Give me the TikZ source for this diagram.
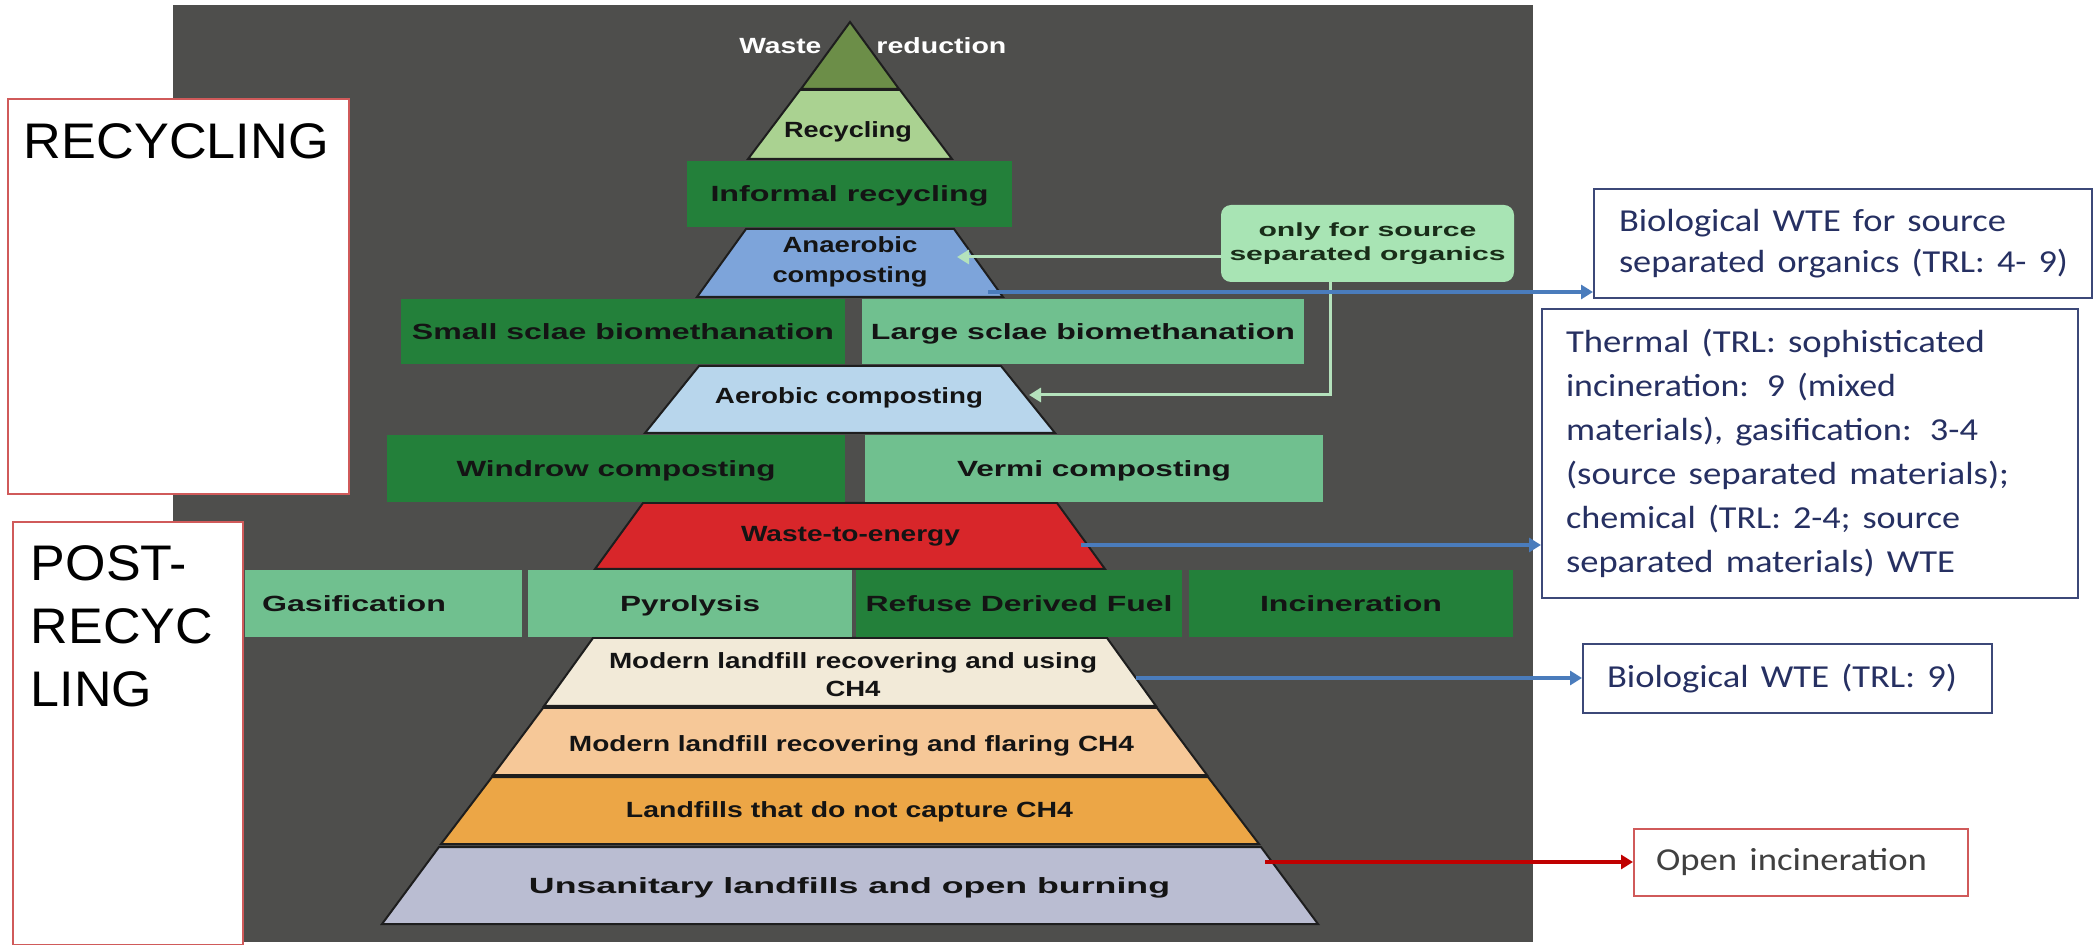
\documentclass[tikz,border=0pt]{standalone}
\usepackage{fontspec}
\usepackage{graphicx}
\setmainfont{Liberation Sans}
\newfontfamily\carl{Carlito}
\usetikzlibrary{arrows.meta}
\definecolor{bgdark}{RGB}{78,78,76}
\definecolor{dkgreen}{RGB}{35,128,58}
\definecolor{ltgreen}{RGB}{112,192,143}
\definecolor{tipgreen}{RGB}{108,142,72}
\definecolor{recgreen}{RGB}{170,210,145}
\definecolor{anblue}{RGB}{125,164,218}
\definecolor{aeblue}{RGB}{184,214,236}
\definecolor{wtered}{RGB}{216,38,42}
\definecolor{cream}{RGB}{242,234,216}
\definecolor{ltorange}{RGB}{246,200,152}
\definecolor{orangetwo}{RGB}{236,166,70}
\definecolor{lavender}{RGB}{186,189,210}
\definecolor{notegreen}{RGB}{168,228,180}
\definecolor{arrowgreen}{RGB}{180,226,188}
\definecolor{arrowblue}{RGB}{74,124,188}
\definecolor{arrowred}{RGB}{192,0,0}
\definecolor{boxred}{RGB}{208,90,90}
\definecolor{navy}{RGB}{38,48,98}
\definecolor{boxnavy}{RGB}{60,72,120}
\definecolor{outline}{RGB}{30,30,30}
\definecolor{labtext}{RGB}{20,20,20}
\definecolor{notetext}{RGB}{25,45,25}
\newcommand\fitw[2]{\resizebox{#1}{\height}{#2}}
\newcommand\pslice[5]{\draw[sliceline,fill=#5] ({850-#3},#1) -- ({850+#3},#1) -- ({850+#4},#2) -- ({850-#4},#2) -- cycle;}
\begin{document}
\begin{tikzpicture}[x=0.5pt,y=-0.5pt,
  sliceline/.style={draw=outline,line width=1pt,line join=miter},
  lab/.style={inner sep=0pt,anchor=base,font=\fontsize{11}{13}\selectfont\bfseries,text=labtext},
  rbox/.style={inner sep=0pt,text height=7.9pt,text depth=0pt,font=\fontsize{11}{13}\selectfont\bfseries,text=labtext},
  sidebox/.style={draw=boxred,line width=1pt,fill=white,anchor=north west,inner ysep=12pt,align=left,font=\fontsize{25}{31.5}\selectfont,text=black},
  wtebox/.style={draw=boxnavy,line width=1pt,fill=white,inner sep=0pt,anchor=north west,align=left,text=navy,font=\carl\fontsize{16}{22}\selectfont},
  notebox/.style={fill=notegreen,rounded corners=5pt,inner sep=0pt,align=center,font=\fontsize{9.5}{12}\selectfont\bfseries,text=notetext},
  barrow/.style={draw=arrowblue,line width=2pt,-{Triangle[length=6pt,width=7pt]}},
  rarrow/.style={draw=arrowred,line width=2pt,-{Triangle[length=6pt,width=7pt]}},
  garrow/.style={draw=arrowgreen,line width=1.5pt,-{Triangle[length=6pt,width=7pt]}},
]
\useasboundingbox (0,0) rectangle (2093,945);
\fill[white] (0,0) rectangle (2093,945);
\fill[bgdark] (173,5) rectangle (1533,942);

% left boxes
\node[sidebox,inner xsep=8pt,text width=154.5pt,text height=18pt,text depth=155.5pt] (recbox) at (7,98) {\scalebox{1.045}[1]{RECYCLING}};
\node[sidebox,inner xsep=9pt,text width=97pt,text height=17.5pt,text depth=170pt] (postbox) at (12,521) {\scalebox{1.04}[1]{\begin{tabular}[t]{@{}l@{}}POST-\\RECYC\\LING\end{tabular}}};

% pyramid slices
\draw[sliceline,fill=tipgreen] (850,22) -- (899,89) -- (801,89) -- cycle;
\pslice{90}{159}{50}{102}{recgreen}
\pslice{229}{297}{104}{153}{anblue}
\pslice{366}{433}{151}{205}{aeblue}
\pslice{503}{569}{207}{255}{wtered}
\pslice{638}{706}{257}{306}{cream}
\pslice{708}{775}{307}{357}{ltorange}
\pslice{777}{844}{358}{409}{orangetwo}
\pslice{847}{924}{411}{468}{lavender}

% rectangles
\node[rbox,fill=dkgreen,minimum width=162.5pt,minimum height=33pt] (informal) at (849.5,194) {\fitw{139pt}{Informal recycling}};
\node[rbox,fill=dkgreen,minimum width=222pt,minimum height=32.5pt] (small) at (623,331.5) {\fitw{211pt}{Small sclae biomethanation}};
\node[rbox,fill=ltgreen,minimum width=221pt,minimum height=32.5pt] (large) at (1083,331.5) {\fitw{212pt}{Large sclae biomethanation}};
\node[rbox,fill=dkgreen,minimum width=229pt,minimum height=33.5pt] (windrow) at (616,468.5) {\fitw{159.5pt}{Windrow composting}};
\node[rbox,fill=ltgreen,minimum width=229pt,minimum height=33.5pt] (vermi) at (1094,468.5) {\fitw{137pt}{Vermi composting}};
\node[rbox,fill=ltgreen,text width=138.5pt,align=left,minimum height=33.5pt] (gasif) at (383.5,603.5) {\hspace*{8.5pt}\fitw{92pt}{Gasification}};
\node[rbox,fill=ltgreen,minimum width=162pt,minimum height=33.5pt] (pyro) at (690,603.5) {\fitw{70pt}{Pyrolysis}};
\node[rbox,fill=dkgreen,minimum width=163pt,minimum height=33.5pt] (rdf) at (1019,603.5) {\fitw{153.5pt}{Refuse Derived Fuel}};
\node[rbox,fill=dkgreen,minimum width=162pt,minimum height=33.5pt] (incin) at (1351,603.5) {\fitw{91pt}{Incineration}};

% slice labels
\node[lab,anchor=base west,text=white] (waste) at (739,54) {\fitw{41pt}{Waste}};
\node[lab,anchor=base west,text=white] (reduction) at (876,54) {\fitw{65pt}{reduction}};
\node[lab] (recyc) at (848,138) {\fitw{64pt}{Recycling}};
\node[lab,font=\fontsize{11}{15}\selectfont\bfseries] (anaer) at (850,253) {\begin{tabular}[t]{@{}c@{}}\fitw{67.5pt}{Anaerobic}\\\fitw{77.5pt}{composting}\end{tabular}};
\node[lab] (aerob) at (849,404) {\fitw{134pt}{Aerobic composting}};
\node[lab] (wte) at (850.5,542) {\fitw{109.5pt}{Waste-to-energy}};
\node[lab,font=\fontsize{11}{13.5}\selectfont\bfseries] (lfuse) at (853,669) {\begin{tabular}[t]{@{}c@{}}\fitw{244pt}{Modern landfill recovering and using}\\\fitw{27.5pt}{CH4}\end{tabular}};
\node[lab] (lfflare) at (851.5,752) {\fitw{282.5pt}{Modern landfill recovering and flaring CH4}};
\node[lab] (lfnot) at (849.5,817) {\fitw{223.5pt}{Landfills that do not capture CH4}};
\node[lab] (unsan) at (849.5,893) {\fitw{320.5pt}{Unsanitary landfills and open burning}};

% note box
\node[notebox,minimum width=146.5pt,minimum height=38.5pt] (note) at (1367.5,243.5) {\begin{tabular}{@{}c@{}}\fitw{109pt}{only for source}\\\fitw{138pt}{separated organics}\end{tabular}};

% right boxes
\node[wtebox,text width=249pt,minimum height=54.5pt,font=\carl\fontsize{16}{20.5}\selectfont] (bio1) at (1593,188) {\hspace*{12.5pt}\begin{tabular}{@{}l@{}}\fitw{193.5pt}{Biological WTE for source}\\\fitw{224.5pt}{separated organics (TRL: 4- 9)}\end{tabular}};
\node[wtebox,text width=268pt,minimum height=144.5pt] (thermal) at (1541,308) {\hspace*{12pt}\begin{tabular}{@{}l@{}}\fitw{209.5pt}{Thermal (TRL: sophisticated}\\\fitw{165pt}{incineration: 9 (mixed}\\\fitw{206pt}{materials), gasification: 3-4}\\\fitw{221.5pt}{(source separated materials);}\\\fitw{197pt}{chemical (TRL: 2-4; source}\\\fitw{194.5pt}{separated materials) WTE}\end{tabular}};
\node[wtebox,text width=204.5pt,minimum height=34.5pt,font=\carl\fontsize{16}{20}\selectfont] (bio9) at (1582,643) {\hspace*{12pt}\fitw{175pt}{Biological WTE (TRL: 9)}};
\node[wtebox,draw=boxred,text=black!75,text width=167pt,minimum height=33.5pt,font=\carl\fontsize{16}{20}\selectfont] (openinc) at (1633,828) {\hspace*{11pt}\fitw{135.5pt}{Open incineration}};

% green connectors
\coordinate (g1) at (957,257);
\draw[garrow] (note.west |- g1) -- (g1);
\coordinate (gc) at (1330,395);
\coordinate (g2) at (1029,395);
\draw[garrow] (gc |- note.south) -- (gc) -- (g2);

% blue and red connectors
\coordinate (s1) at (988,292);
\draw[barrow] (s1) -- (s1 -| bio1.west);
\coordinate (s2) at (1081,545);
\draw[barrow] (s2) -- (s2 -| thermal.west);
\coordinate (s3) at (1136,678);
\draw[barrow] (s3) -- (s3 -| bio9.west);
\coordinate (s4) at (1265,862);
\draw[rarrow] (s4) -- (s4 -| openinc.west);
\end{tikzpicture}
\end{document}
